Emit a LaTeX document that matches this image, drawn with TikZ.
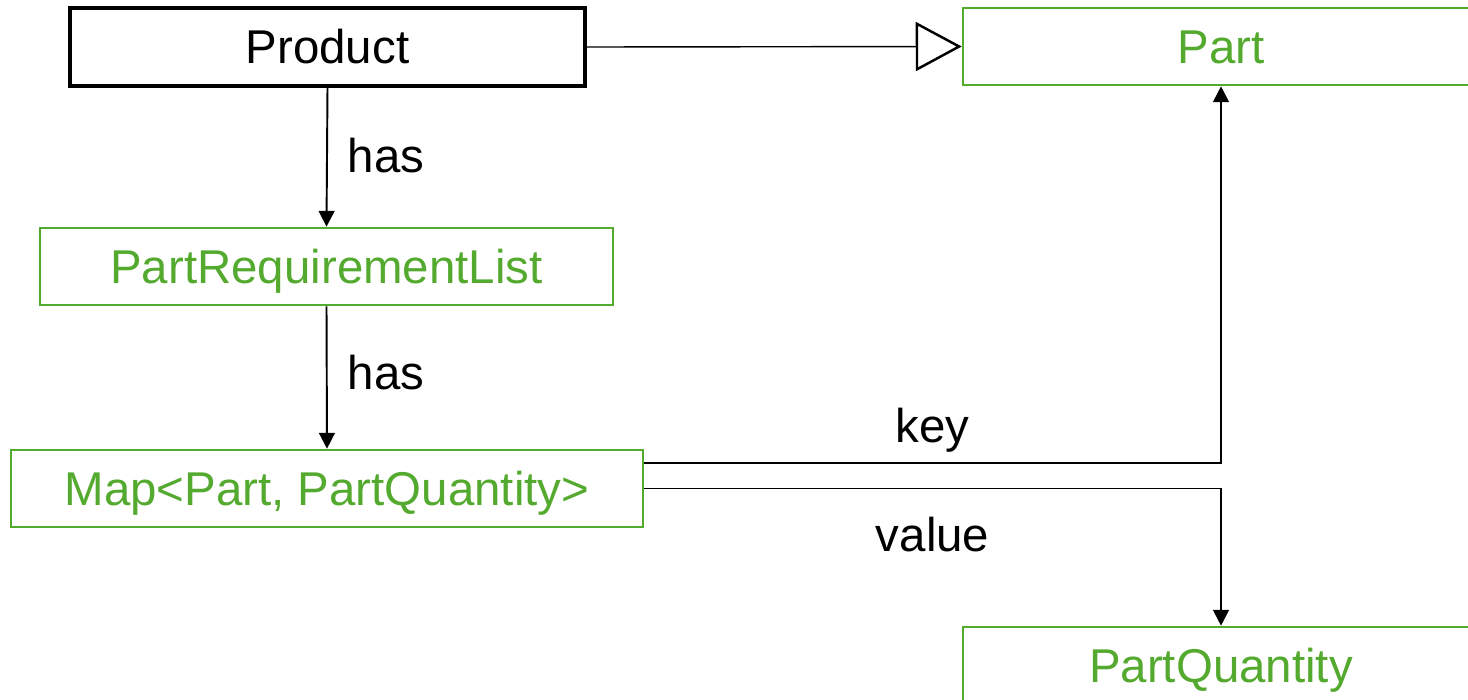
\documentclass[tikz,border=0pt]{standalone}
\usepackage{fontspec}
\setmainfont{Liberation Sans}
\usepackage{tikz}
\usetikzlibrary{arrows.meta}
\usepackage{xcolor}
\definecolor{umlgreen}{RGB}{84,170,46}

\begin{document}
\begin{tikzpicture}[x=0.02cm, y=-0.02cm,
  txt/.style={font=\fontsize{27}{32}\selectfont},
  prodbox/.style={txt, draw=black, line width=2.2pt, minimum height=1.56cm, inner sep=0pt,
    text height=0.67cm, text depth=0pt},
  classbox/.style={txt, draw=umlgreen, text=umlgreen, line width=1.5pt, minimum height=1.54cm, inner sep=0pt,
    text height=0.67cm, text depth=0pt},
  link/.style={line width=1.1pt, -{Triangle[length=9pt, width=9pt]}},
  lbl/.style={txt, inner sep=0pt}]

\useasboundingbox (0,0) rectangle (1468,700);
\clip (0,0) rectangle (1468,700);

% ===== Classes =====

\node[prodbox, minimum width=10.3cm] (product) at (327.5,47) {Product};
\node[classbox, minimum width=10.32cm] (part) at (1221,46.5) {Part};
\node[classbox, minimum width=11.46cm] (reqlist) at (326.5,266.5) {PartRequirementList};
\node[classbox, minimum width=12.64cm] (map) at (327,488.5) {Map<Part, PartQuantity>};
\node[classbox, minimum width=10.32cm] (qty) at (1221,665.5) {PartQuantity};

% ===== Generalisation =====

\draw[line width=0.8pt, -{Triangle[open, length=0.92cm, width=0.98cm, line width=1.4pt]}]
  (product.east) -- (part.west);

% ===== Associations =====

\draw[link] (product.south) -- node[lbl, right=0.4cm, yshift=0.04cm] {has} (reqlist.north);
\draw[link] (reqlist.south) -- node[lbl, right=0.4cm, yshift=0.09cm] {has} (map.north);

\draw[link] ([yshift=0.51cm]map.east) -| node[lbl, pos=0.25, above=0.2cm] {key} (part.south);
\draw[link] (map.east) -| node[lbl, pos=0.25, below=0.56cm] {value} (qty.north);

\end{tikzpicture}
\end{document}
